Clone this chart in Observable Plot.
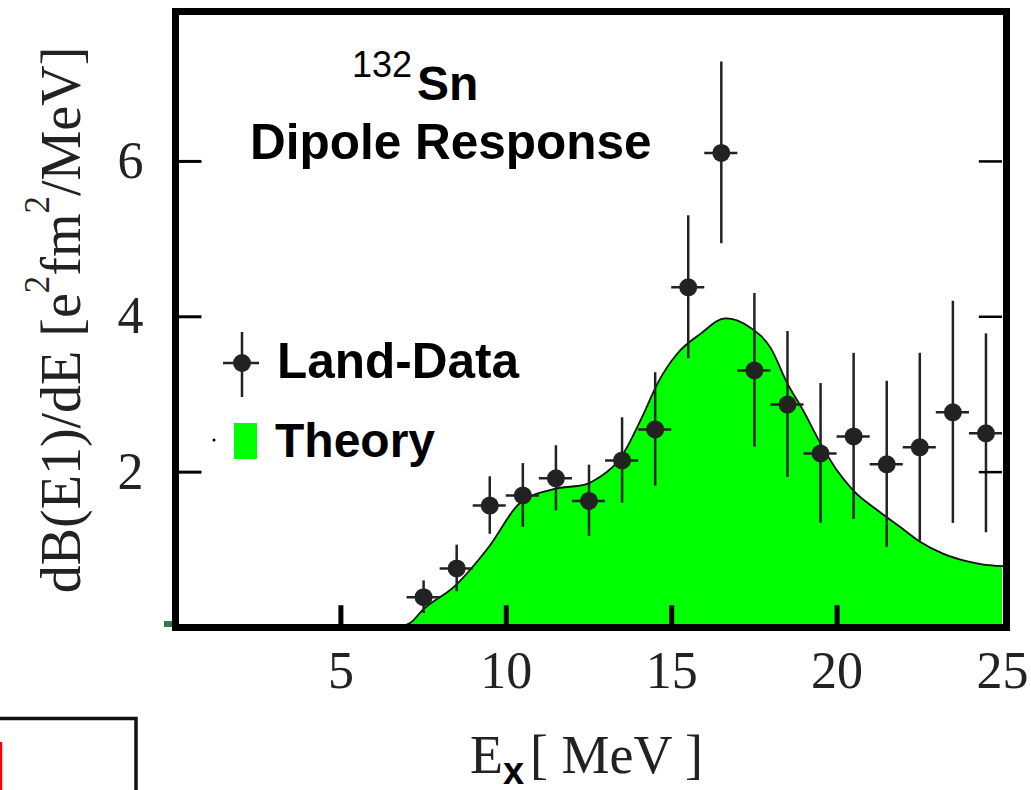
<!DOCTYPE html>
<html>
<head>
<meta charset="utf-8">
<script src="https://cdn.jsdelivr.net/npm/d3@7"></script>
<script src="https://cdn.jsdelivr.net/npm/@observablehq/plot@0.6"></script>
<style>
  html, body { margin: 0; padding: 0; background: #fff; }
  #chart svg { display: block; }
</style>
</head>
<body>
<div id="chart"></div>
<script>
// Measured E1 strength distribution of 132Sn (LAND data), 1 MeV bins
const energy   = [7.5, 8.5, 9.5, 10.5, 11.5, 12.5, 13.5, 14.5, 15.5, 16.5, 17.5, 18.5, 19.5, 20.5, 21.5, 22.5, 23.5, 24.5];
const strength = [0.39, 0.76, 1.57, 1.70, 1.92, 1.63, 2.15, 2.55, 4.38, 6.11, 3.31, 2.87, 2.24, 2.46, 2.10, 2.32, 2.77, 2.50];
const errors   = [0.21, 0.30, 0.37, 0.41, 0.42, 0.46, 0.55, 0.73, 0.92, 1.17, 0.99, 0.94, 0.90, 1.07, 1.07, 1.21, 1.43, 1.28];
const binHalfWidth = 0.5;

// Theoretical dipole response curve
const theoryE = [6.65, 7.1, 7.46, 8.46, 9.46, 10.43, 11.43, 12.45, 12.8, 13.45, 14.15, 14.57, 15.18, 15.87, 16.63, 17.38, 17.99, 18.5, 18.98, 19.5, 20.0, 20.5, 21.22, 21.92, 22.52, 23.2, 23.94, 24.43, 25.0];
const theoryB = [0.0, 0.06, 0.22, 0.54, 1.03, 1.61, 1.78, 1.85, 1.93, 2.18, 2.75, 3.14, 3.53, 3.78, 3.98, 3.86, 3.60, 3.14, 2.79, 2.37, 2.02, 1.76, 1.51, 1.29, 1.10, 0.95, 0.85, 0.81, 0.79];

// Axis ticks
const xTickLabels = [5, 10, 15, 20, 25];
const xTickMarks  = [5, 10, 15, 20];
const yTicks      = [2, 4, 6];

const data = energy.map((e, i) => ({e, b: strength[i], err: errors[i]}));
const theory = theoryE.map((e, i) => ({e, b: theoryB[i]}));

const serif = "'Liberation Serif', 'Times New Roman', serif";
const sans  = "'Liberation Sans', Arial, sans-serif";
const ink = "#222";

const plot = Plot.plot({
  width: 1031,
  height: 790,
  marginLeft: 175,
  marginRight: 29,
  marginTop: 11,
  marginBottom: 163,
  style: {background: "#fff", overflow: "visible"},
  x: {domain: [0, 25], axis: null},
  y: {domain: [0, 7.93], axis: null},
  marks: [
    Plot.areaY(theory, {x: "e", y: "b", fill: "#00ff00", curve: "monotone-x"}),
    Plot.line(theory, {x: "e", y: "b", stroke: "#111", strokeWidth: 1.8, curve: "monotone-x"}),
    // error bars
    Plot.ruleX(data, {x: "e", y1: d => d.b - d.err, y2: d => d.b + d.err, stroke: ink, strokeWidth: 2.5}),
    Plot.ruleY(data, {y: "b", x1: d => d.e - binHalfWidth, x2: d => d.e + binHalfWidth, stroke: ink, strokeWidth: 2.5}),
    Plot.dot(data, {x: "e", y: "b", r: 9, fill: ink, stroke: "none"}),
    // inward tick marks
    Plot.ruleX(xTickMarks, {x: d => d, y1: 0, y2: 0.28, stroke: "#000", strokeWidth: 5}),
    Plot.ruleY(yTicks, {y: d => d, x1: 0, x2: 0.8, stroke: "#000", strokeWidth: 3}),
    Plot.ruleY(yTicks, {y: d => d, x1: 24.3, x2: 25, stroke: "#000", strokeWidth: 2.5}),
    Plot.frame({stroke: "#000", strokeWidth: 7, insetRight: -4}),
    // tick labels
    Plot.text(xTickLabels, {x: d => d, y: 0, text: d => String(d), dy: 60, lineAnchor: "bottom",
      fontSize: 52, fontFamily: serif, fill: "#222"}),
    Plot.text(yTicks, {y: d => d, x: 0, text: d => String(d), dx: -45, lineAnchor: "middle",
      fontSize: 52, fontFamily: serif, fill: "#222"})
  ]
});

document.getElementById("chart").appendChild(plot);

const svg = d3.select(plot);

// Annotation layer: left-anchored text by default
const notes = svg.append("g").attr("text-anchor", "start");

// Title
const title = notes.append("text")
  .attr("x", 352).attr("y", 100)
  .attr("font-family", sans).attr("font-weight", "bold").attr("font-size", 48).attr("fill", "#000");
title.append("tspan").attr("font-size", 36).attr("font-weight", "normal").attr("dy", -23).text("132");
title.append("tspan").attr("dy", 23).attr("dx", 5).text("Sn");

notes.append("text")
  .attr("x", 250).attr("y", 159)
  .attr("font-family", sans).attr("font-weight", "bold").attr("font-size", 49.5).attr("fill", "#000")
  .text("Dipole Response");

// Legend: data marker
const lg = notes.append("g").attr("stroke", ink).attr("stroke-width", 2.5);
lg.append("line").attr("x1", 242).attr("x2", 242).attr("y1", 332).attr("y2", 397);
lg.append("line").attr("x1", 223).attr("x2", 259).attr("y1", 363).attr("y2", 363);
lg.append("circle").attr("cx", 242).attr("cy", 363).attr("r", 9).attr("fill", ink).attr("stroke", "none");
notes.append("text")
  .attr("x", 277).attr("y", 378)
  .attr("font-family", sans).attr("font-weight", "bold").attr("font-size", 49.5).attr("fill", "#000")
  .text("Land-Data");

// Legend: theory swatch
notes.append("circle").attr("cx", 214).attr("cy", 440).attr("r", 1.5).attr("fill", "#000");
notes.append("rect").attr("x", 234).attr("y", 423).attr("width", 23).attr("height", 36).attr("fill", "#00ff00");
notes.append("text")
  .attr("x", 275).attr("y", 457)
  .attr("font-family", sans).attr("font-weight", "bold").attr("font-size", 48).attr("fill", "#000")
  .text("Theory");

// X axis label
notes.append("text").attr("x", 470).attr("y", 773)
  .attr("font-family", serif).attr("font-size", 54).attr("fill", "#222").text("E");
notes.append("text").attr("x", 503).attr("y", 784)
  .attr("font-family", sans).attr("font-weight", "bold").attr("font-size", 38).attr("fill", "#000").text("x");
notes.append("text").attr("x", 530).attr("y", 773)
  .attr("font-family", serif).attr("font-size", 54).attr("fill", "#222").text("[ MeV ]");

// Y axis label (rotated)
const yl = svg.append("text")
  .attr("transform", "translate(80,320) rotate(-90)")
  .attr("text-anchor", "middle")
  .attr("font-family", serif).attr("font-size", 56).attr("fill", "#222");
yl.append("tspan").text("dB(E1)/dE [e");
yl.append("tspan").attr("font-size", 35).attr("dy", -31).text("2");
yl.append("tspan").attr("dy", 31).text("fm");
yl.append("tspan").attr("font-size", 35).attr("dy", -31).text("2");
yl.append("tspan").attr("dy", 31).text("/MeV]");

// small corner mark
notes.append("rect").attr("x", 164).attr("y", 621).attr("width", 8).attr("height", 6).attr("fill", "#2e7d4f");

// inset box at lower left
notes.append("rect").attr("x", -10).attr("y", 718.5).attr("width", 146).attr("height", 100)
  .attr("fill", "none").attr("stroke", "#111").attr("stroke-width", 3.5);
notes.append("line").attr("x1", 1).attr("x2", 1).attr("y1", 742).attr("y2", 790)
  .attr("stroke", "#ff0000").attr("stroke-width", 2.5);
</script>
</body>
</html>
